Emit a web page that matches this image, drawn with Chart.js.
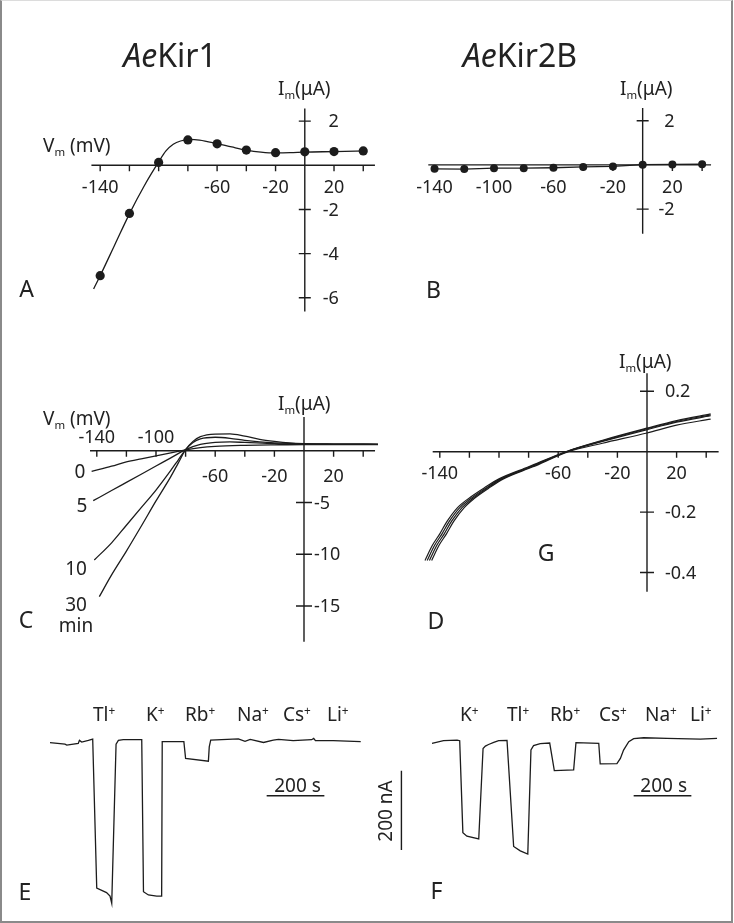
<!DOCTYPE html>
<html><head><meta charset="utf-8">
<script src="https://cdn.jsdelivr.net/npm/chart.js@4.4.0/dist/chart.umd.min.js"></script>
<style>
html,body{margin:0;padding:0;background:#fff;}
#fig{position:relative;width:734px;height:923px;overflow:hidden;background:#fff;font-family:"Noto Sans",sans-serif;color:#222;}
#fig canvas{position:absolute;left:0;top:0;}
.frame{position:absolute;left:0;top:0;width:733px;height:923px;box-sizing:border-box;border-left:2px solid #8a8a8a;border-right:2px solid #8a8a8a;border-bottom:2px solid #8a8a8a;border-top:1px solid #dcdcdc;pointer-events:none;}
.t{position:absolute;white-space:nowrap;line-height:1;}
.c{transform:translate(-50%,-50%);}
.l{transform:translate(0,-50%);}
.sub{font-size:60%;position:relative;top:0.35em;}
.sup{font-size:62%;position:relative;top:-0.5em;}
.rot{transform:translate(-50%,-50%) rotate(-90deg);}
</style></head>
<body>
<div id="fig">
<canvas id="cA" width="734" height="923"></canvas>
<canvas id="cB" width="734" height="923"></canvas>
<canvas id="cC" width="734" height="923"></canvas>
<canvas id="cD" width="734" height="923"></canvas>
<canvas id="cE" width="734" height="923"></canvas>
<canvas id="cF" width="734" height="923"></canvas>

<div class="t c" style="left:170px;top:55px;font-size:32px;"><i>Ae</i>Kir1</div>
<div class="t c" style="left:520px;top:55px;font-size:32px;"><i>Ae</i>Kir2B</div>

<div class="t l" style="left:278px;top:88px;font-size:19px;">I<span class="sub">m</span>(μA)</div>
<div class="t l" style="left:43px;top:145px;font-size:19px;">V<span class="sub">m</span> (mV)</div>
<div class="t l" style="left:620px;top:88px;font-size:19px;">I<span class="sub">m</span>(μA)</div>
<div class="t l" style="left:278px;top:403px;font-size:19px;">I<span class="sub">m</span>(μA)</div>
<div class="t l" style="left:43px;top:418px;font-size:19px;">V<span class="sub">m</span> (mV)</div>
<div class="t l" style="left:619px;top:361px;font-size:19px;">I<span class="sub">m</span>(μA)</div>

<div class="t c" style="left:80px;top:471px;font-size:19px;">0</div>
<div class="t c" style="left:82px;top:505px;font-size:19px;">5</div>
<div class="t c" style="left:76px;top:568px;font-size:19px;">10</div>
<div class="t c" style="left:76px;top:604px;font-size:19px;">30</div>
<div class="t c" style="left:76px;top:625px;font-size:19px;">min</div>

<div class="t c" style="left:26.5px;top:288px;font-size:23px;">A</div>
<div class="t c" style="left:433.5px;top:288.5px;font-size:23px;">B</div>
<div class="t c" style="left:26px;top:619px;font-size:23px;">C</div>
<div class="t c" style="left:436px;top:620px;font-size:23px;">D</div>
<div class="t c" style="left:546px;top:551.5px;font-size:23px;">G</div>
<div class="t c" style="left:25px;top:891px;font-size:23px;">E</div>
<div class="t c" style="left:436.5px;top:890px;font-size:23px;">F</div>

<div class="t l" style="left:93px;top:714px;font-size:19px;">Tl<span class="sup">+</span></div>
<div class="t l" style="left:146px;top:714px;font-size:19px;">K<span class="sup">+</span></div>
<div class="t l" style="left:185px;top:714px;font-size:19px;">Rb<span class="sup">+</span></div>
<div class="t l" style="left:237px;top:714px;font-size:19px;">Na<span class="sup">+</span></div>
<div class="t l" style="left:283px;top:714px;font-size:19px;">Cs<span class="sup">+</span></div>
<div class="t l" style="left:327px;top:714px;font-size:19px;">Li<span class="sup">+</span></div>

<div class="t l" style="left:460px;top:714px;font-size:19px;">K<span class="sup">+</span></div>
<div class="t l" style="left:507px;top:714px;font-size:19px;">Tl<span class="sup">+</span></div>
<div class="t l" style="left:550px;top:714px;font-size:19px;">Rb<span class="sup">+</span></div>
<div class="t l" style="left:599px;top:714px;font-size:19px;">Cs<span class="sup">+</span></div>
<div class="t l" style="left:645px;top:714px;font-size:19px;">Na<span class="sup">+</span></div>
<div class="t l" style="left:690px;top:714px;font-size:19px;">Li<span class="sup">+</span></div>

<div class="t c" style="left:297.5px;top:785px;font-size:19px;">200 s</div>
<div class="t c" style="left:663.7px;top:785px;font-size:19px;">200 s</div>
<div class="t rot" style="left:384.5px;top:811px;font-size:19px;">200 nA</div>

<div class="frame"></div>
</div>
<script>
// ---------------- data ----------------
// Panel A: AeKir1 I-V (points and fitted curve)
const vmA = [-140, -120, -100, -80, -60, -40, -20, 0, 20, 40];
const imA = [-5.0, -2.18, 0.13, 1.15, 0.97, 0.69, 0.57, 0.61, 0.62, 0.65];
const fitA = [[-144.5,-5.6],[-140,-5.0],[-130,-3.6],[-120,-2.2],[-110,-0.95],[-100,0.15],[-95,0.65],[-90,0.95],[-85,1.1],[-79,1.17],[-72,1.14],[-60,0.98],[-50,0.83],[-40,0.69],[-30,0.6],[-20,0.56],[-10,0.57],[0,0.6],[20,0.62],[42,0.65]];
// Panel B: AeKir2B I-V
const vmB = [-140, -120, -100, -80, -60, -40, -20, 0, 20, 40];
const imB = [-0.18, -0.19, -0.15, -0.15, -0.13, -0.09, -0.07, 0.01, 0.02, 0.03];
// Panel C: AeKir1 I-V curves at 0, 5, 10, 30 min
const curveC0  = [[-143.5,-2.0],[-130,-1.5],[-120,-1.08],[-110,-0.78],[-100,-0.5],[-90,-0.22],[-80,0.08],[-70,0.3],[-60,0.42],[-40,0.52],[-20,0.57],[0,0.6],[20,0.6],[50,0.6]];
const curveC5  = [[-142.4,-4.83],[-130,-3.85],[-120,-3.06],[-110,-2.27],[-100,-1.48],[-90,-0.7],[-80,0.1],[-70,0.6],[-60,0.8],[-50,0.85],[-40,0.8],[-20,0.68],[0,0.63],[20,0.62],[50,0.62]];
const curveC10 = [[-141.7,-10.56],[-130,-8.9],[-120,-7.2],[-110,-5.5],[-100,-3.8],[-90,-1.9],[-85,-0.9],[-80,0.1],[-75,0.8],[-70,1.15],[-60,1.3],[-50,1.2],[-40,1.0],[-30,0.85],[-20,0.75],[0,0.65],[20,0.63],[50,0.62]];
const curveC30 = [[-138.3,-14.1],[-130,-12.0],[-120,-9.7],[-110,-7.3],[-100,-4.85],[-90,-2.5],[-85,-1.2],[-80,0.1],[-75,0.9],[-70,1.35],[-60,1.6],[-50,1.62],[-40,1.4],[-30,1.1],[-20,0.9],[-10,0.75],[0,0.68],[20,0.64],[50,0.62]];
// Panel D: AeKir2B I-V curves (four overlapping recordings)
const curveD1 = [[-150,-0.36],[-145,-0.31],[-140,-0.272],[-135,-0.23],[-128,-0.185],[-120,-0.153],[-110,-0.12],[-100,-0.09],[-80,-0.05],[-55,0],[-30,0.038],[0,0.078],[20,0.103],[43,0.125]];
const curveD2 = [[-148.5,-0.36],[-143.5,-0.31],[-138.5,-0.272],[-133.5,-0.23],[-126.5,-0.185],[-119,-0.155],[-109,-0.121],[-99,-0.09],[-79,-0.05],[-54.5,0],[-30,0.036],[0,0.076],[20,0.1],[43,0.122]];
const curveD3 = [[-147,-0.36],[-142,-0.31],[-137,-0.272],[-132,-0.23],[-125,-0.185],[-118,-0.156],[-108,-0.121],[-98,-0.09],[-78,-0.05],[-54,0],[-30,0.034],[0,0.073],[20,0.098],[43,0.119]];
const curveD4 = [[-145.5,-0.36],[-140.5,-0.31],[-135.5,-0.272],[-130.5,-0.23],[-123.5,-0.185],[-117,-0.156],[-107,-0.121],[-97,-0.09],[-77,-0.05],[-53,0],[-30,0.028],[0,0.062],[20,0.088],[43,0.108]];
// Panel E: AeKir1 current trace (time s, current nA)
const traceE = [[0,-2.5],[52,-6],[58,-8.4],[98,-4.2],[102,3.4],[110,-0.8],[133,3.4],[148,6.7],[162,-369],[196,-380],[208,-389],[214,-407],[229,-6],[237,3.4],[254,5],[318,5],[324,-378],[341,-386],[370,-389],[387,-389],[389,0],[464,0],[470,-42],[549,-49],[552,-13],[557,4],[653,7],[676,1],[694,6],[740,-2],[774,4],[792,6],[843,2.5],[907,5],[914,8.4],[920,2.5],[982,2.5],[1077,0]];
// Panel F: AeKir2B current trace (time s, current nA)
const traceF = [[0,-4],[40,2.5],[87,4],[96,2.5],[107,-229],[121,-238],[162,-245],[177,-17],[185,-11],[196,-7],[214,-1.7],[231,2.5],[260,3.4],[283,-264],[306,-275],[332,-283],[343,-21],[352,-10],[375,-5],[408,-3.4],[424,-73],[491,-71],[499,-2.5],[578,-4],[583,-56],[641,-55],[653,-42],[664,-21],[682,0],[699,7.6],[734,10],[815,8.4],[930,6.7],[988,8.4]];
// scale bars (200 s, 200 nA)
const scaleBarTime = 200;
const scaleBarCurrent = 200;
// tick values and labels
const ticksV = [-140, -120, -100, -80, -60, -40, -20, 0, 20, 40];
const xLabelsA = [-140, -60, -20, 20];
const yTicksA = [2, -2, -4, -6];
const xLabelsB = [-140, -100, -60, -20, 20];
const yTicksB = [2, -2];
const xLabelsAboveC = [-140, -100];
const xLabelsBelowC = [-60, -20, 20];
const yTicksC = [-5, -10, -15];
const xLabelsD = [-140, -60, -20, 20];
const yTicksD = [0.2, -0.2, -0.4];

// ---------------- layout ----------------
const W = 734, H = 923;
const INK = '#1c1c1c', TXT = '#222';
const maps = {
  A:{x0:304, kx:1.48, y0:162.3, ky:22.3},
  B:{x0:645.7, kx:1.503, y0:162.3, ky:22.3},
  C:{x0:304, kx:1.48, y0:450.7, ky:10.35},
  D:{x0:647, kx:1.48, y0:451.7, ky:302},
  E:{x0:50, kx:0.2885, y0:741.7, ky:0.397},
  F:{x0:432, kx:0.2885, y0:741.7, ky:0.397}
};

const crossAxes = {
  id:'crossAxes',
  beforeDatasetsDraw(chart, _a, o){
    if(!o || !o.x) return;
    const ctx = chart.ctx, sx = chart.scales.x, sy = chart.scales.y;
    const X0 = sx.getPixelForValue(0), Y0 = sy.getPixelForValue(0);
    ctx.save();
    ctx.strokeStyle = INK; ctx.lineWidth = 1.4;
    ctx.beginPath();
    ctx.moveTo(sx.getPixelForValue(o.x.from), Y0); ctx.lineTo(sx.getPixelForValue(o.x.to), Y0);
    ctx.moveTo(X0, sy.getPixelForValue(o.y.from)); ctx.lineTo(X0, sy.getPixelForValue(o.y.to));
    o.x.ticks.forEach(v=>{const p=sx.getPixelForValue(v); ctx.moveTo(p,Y0); ctx.lineTo(p,Y0+o.x.tickLen);});
    o.y.ticks.forEach(v=>{const p=sy.getPixelForValue(v); ctx.moveTo(X0-o.y.tickLen,p); ctx.lineTo(X0+o.y.tickLen,p);});
    ctx.stroke();
    ctx.fillStyle = TXT; ctx.font = '18px "Noto Sans"'; ctx.textBaseline = 'middle';
    ctx.textAlign = 'center';
    (o.x.below||[]).forEach(v=>ctx.fillText(String(v), sx.getPixelForValue(v), Y0+o.x.belowOff));
    (o.x.above||[]).forEach(v=>ctx.fillText(String(v), sx.getPixelForValue(v), Y0-o.x.aboveOff));
    ctx.textAlign = o.y.align;
    o.y.ticks.forEach(v=>ctx.fillText(String(v), X0+o.y.labelOff, sy.getPixelForValue(v)+1));
    ctx.restore();
  }
};

const pts = arr => arr.map(([x,y])=>({x,y}));
const lineDs = (arr, extra) => Object.assign({data:pts(arr), showLine:true, pointRadius:0, borderColor:INK, borderWidth:1.3, tension:0, fill:false}, extra||{});

function make(id, m, datasets, axes){
  new Chart(document.getElementById(id), {
    type:'scatter',
    data:{datasets},
    options:{
      responsive:false, animation:false, devicePixelRatio:1, events:[],
      layout:{padding:0},
      scales:{
        x:{type:'linear', display:false, min:(0-m.x0)/m.kx, max:(W-m.x0)/m.kx},
        y:{type:'linear', display:false, min:(m.y0-H)/m.ky, max:m.y0/m.ky}
      },
      plugins:{legend:{display:false}, tooltip:{enabled:false}, crossAxes:axes||{}}
    },
    plugins:[crossAxes]
  });
}

// A
make('cA', maps.A, [
  lineDs(fitA, {cubicInterpolationMode:'monotone'}),
  {data:vmA.map((v,k)=>({x:v,y:imA[k]})), showLine:false, pointRadius:4.6, pointBackgroundColor:INK, pointBorderWidth:0}
], {
  x:{from:-146, to:48, ticks:ticksV, tickLen:6, below:xLabelsA, belowOff:23},
  y:{from:2.57, to:-6.62, ticks:yTicksA, tickLen:6, align:'right', labelOff:34}
});
// B
make('cB', maps.B, [
  {data:vmB.map((v,k)=>({x:v,y:imB[k]})), showLine:true, tension:0, pointRadius:4, pointBackgroundColor:INK, pointBorderWidth:0, borderColor:INK, borderWidth:1.3}
], {
  x:{from:-144.2, to:46, ticks:ticksV, tickLen:6, below:xLabelsB, belowOff:23},
  y:{from:2.57, to:-3.11, ticks:yTicksB, tickLen:6, align:'right', labelOff:32}
});
// C
make('cC', maps.C, [
  lineDs(curveC0, {cubicInterpolationMode:'monotone'}),
  lineDs(curveC5, {cubicInterpolationMode:'monotone'}),
  lineDs(curveC10, {cubicInterpolationMode:'monotone'}),
  lineDs(curveC30, {cubicInterpolationMode:'monotone'})
], {
  x:{from:-144.6, to:48, ticks:ticksV, tickLen:6, below:xLabelsBelowC, belowOff:26, above:xLabelsAboveC, aboveOff:13},
  y:{from:3.26, to:-18.45, ticks:yTicksC, tickLen:8, align:'left', labelOff:10}
});
// D
make('cD', maps.D, [
  lineDs(curveD1, {cubicInterpolationMode:'monotone', borderWidth:1.2}),
  lineDs(curveD2, {cubicInterpolationMode:'monotone', borderWidth:1.2}),
  lineDs(curveD3, {cubicInterpolationMode:'monotone', borderWidth:1.2}),
  lineDs(curveD4, {cubicInterpolationMode:'monotone', borderWidth:1.2})
], {
  x:{from:-144.8, to:48.4, ticks:ticksV, tickLen:6, below:xLabelsD, belowOff:22},
  y:{from:0.26, to:-0.464, ticks:yTicksD, tickLen:7, align:'left', labelOff:18}
});
// E
make('cE', maps.E, [
  lineDs(traceE),
  lineDs([[751,-136],[751+scaleBarTime,-136]], {borderWidth:1.4})
]);
// F
make('cF', maps.F, [
  lineDs(traceF),
  lineDs([[699,-136],[699+scaleBarTime,-136]], {borderWidth:1.4}),
  lineDs([[-106,-73],[-106,-73-scaleBarCurrent]], {borderWidth:1.4})
]);
</script>
</body></html>
